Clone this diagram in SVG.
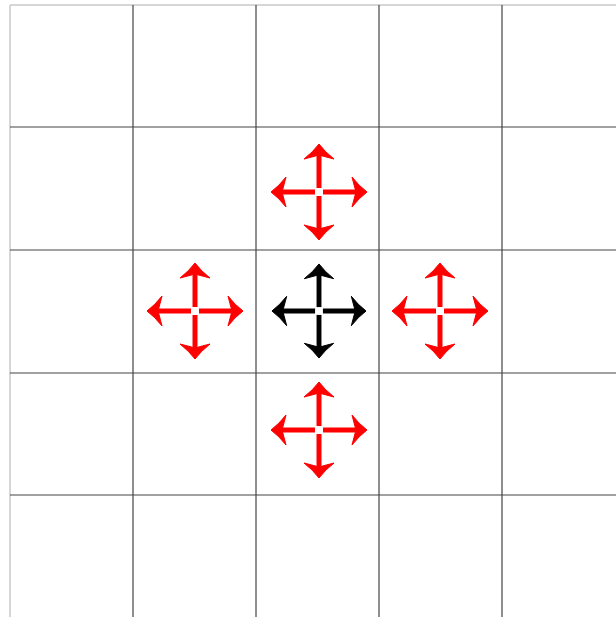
<svg xmlns="http://www.w3.org/2000/svg" xmlns:xlink="http://www.w3.org/1999/xlink" width="616" height="617" viewBox="0 0 616 617">
<style>
.grid{stroke:#444;stroke-width:1.2;fill:none}
.edge{stroke:#c8c8c8;stroke-width:1.5;fill:none}
.red{color:#ff0000}
.black{color:#000}
</style>
<defs>
<g id="arm">
<line x1="0" y1="-4" x2="0" y2="-38" stroke="currentColor" stroke-width="5"/>
<path d="M0,-48 Q6,-40 15,-33 Q7,-35 0,-37 Q-7,-35 -15,-33 Q-6,-40 0,-48 Z" fill="currentColor" stroke="currentColor" stroke-width="1" stroke-linejoin="round"/>
</g>
<g id="cross">
<use xlink:href="#arm"/>
<use xlink:href="#arm" transform="rotate(90)"/>
<use xlink:href="#arm" transform="rotate(180)"/>
<use xlink:href="#arm" transform="rotate(270)"/>
</g>
</defs>
<rect width="616" height="617" fill="#fff"/>
<g id="grid">
<line class="edge" x1="10" y1="5" x2="616" y2="5"/>
<line class="edge" x1="10" y1="5" x2="10" y2="617"/>
<line class="grid" x1="133" y1="5" x2="133" y2="617"/>
<line class="grid" x1="256" y1="5" x2="256" y2="617"/>
<line class="grid" x1="379" y1="5" x2="379" y2="617"/>
<line class="grid" x1="502" y1="5" x2="502" y2="617"/>
<line class="grid" x1="10" y1="127" x2="616" y2="127"/>
<line class="grid" x1="10" y1="250" x2="616" y2="250"/>
<line class="grid" x1="10" y1="373" x2="616" y2="373"/>
<line class="grid" x1="10" y1="495" x2="616" y2="495"/>
</g>
<g id="cross-top" class="red"><use xlink:href="#cross" transform="translate(319,192)"/></g>
<g id="cross-left" class="red"><use xlink:href="#cross" transform="translate(195,311)"/></g>
<g id="cross-center" class="black"><use xlink:href="#cross" transform="translate(319,311) scale(0.98)"/></g>
<g id="cross-right" class="red"><use xlink:href="#cross" transform="translate(440,311)"/></g>
<g id="cross-bottom" class="red"><use xlink:href="#cross" transform="translate(319,430)"/></g>
<g id="connectors"/>
</svg>
